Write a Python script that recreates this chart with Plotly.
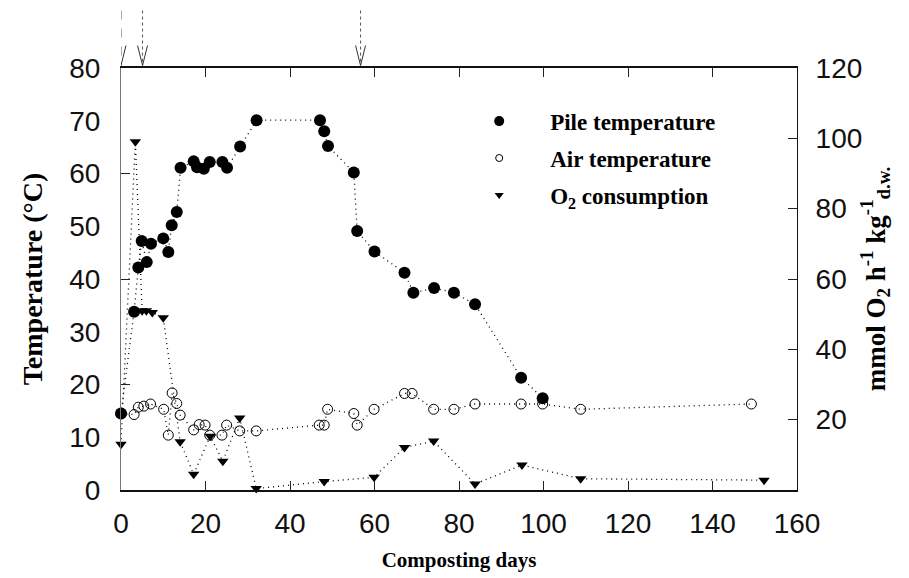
import plotly.graph_objects as go

# ---------------- data ----------------
pile_days = [0, 3.1, 4.1, 4.9, 6.1, 7.1, 10.0, 11.2, 12.0, 13.2, 14.1, 17.2, 18.0, 19.6,
             21.0, 24.0, 25.1, 28.2, 32.1, 47.1, 48.1, 49.0, 55.1, 55.9, 60.0, 67.1,
             69.2, 74.1, 78.8, 83.8, 94.7, 99.8]
pile_temp = [14.5, 33.8, 42.2, 47.2, 43.2, 46.7, 47.7, 45.1, 50.2, 52.7, 61.1, 62.3, 61.2, 60.9,
             62.2, 62.2, 61.1, 65.1, 70.1, 70.1, 68.0, 65.2, 60.2, 49.1, 45.2, 41.2,
             37.4, 38.3, 37.4, 35.2, 21.3, 17.4]

air_days = [0.1, 3.1, 4.1, 5.4, 7.0, 10.1, 11.2, 12.1, 13.2, 14.0, 17.2, 18.5, 19.9, 21.0,
            23.9, 25.0, 28.1, 32.0, 46.9, 48.1, 48.9, 55.1, 55.9, 59.9, 67.1, 68.9,
            74.0, 78.8, 83.8, 94.7, 99.8, 108.8, 149.2]
air_temp = [14.5, 14.3, 15.7, 15.9, 16.3, 15.3, 10.4, 18.4, 16.4, 14.2, 11.4, 12.4, 12.3, 10.4,
            10.4, 12.3, 11.2, 11.2, 12.3, 12.3, 15.3, 14.5, 12.3, 15.3, 18.3, 18.3,
            15.3, 15.3, 16.3, 16.3, 16.3, 15.3, 16.3]

o2_days = [0, 3.4, 5.0, 6.0, 7.4, 10.0, 14.0, 17.2, 21.1, 24.1, 28.1, 32.0, 48.1, 59.9,
           67.1, 74.0, 83.8, 94.9, 108.8, 152.2]
o2_rate = [13, 99, 51, 51, 50.5, 49, 13.7, 4.5, 15.3, 8.2, 20.5, 0.4, 2.4, 3.6,
           12.1, 13.9, 1.7, 7.1, 3.2, 2.8]

series_names = ["Pile temperature", "Air temperature", "O<sub>2</sub> consumption"]

turning_days = [0, 5.1, 56.7]
turning_dash = ["dash", "dot", "dot"]

x_ticks = [0, 20, 40, 60, 80, 100, 120, 140, 160]
left_labels = [0, 10, 20, 30, 40, 50, 60, 70, 80]
left_ticks = [0, 20, 40, 60, 80]
right_ticks = [20, 40, 60, 80, 100, 120]

# ---------------- figure ----------------
DOT = "1px,4px"
legend_font = dict(family="Liberation Serif", size=23, color="black", weight="bold")

pile_marker = dict(symbol="circle", size=12, color="black")
air_marker = dict(symbol="circle-open", size=10, color="black", line=dict(width=1))
o2_marker = dict(symbol="triangle-down", size=10, color="black")

fig = go.Figure()
fig.add_trace(go.Scatter(
    x=pile_days, y=pile_temp, mode="lines+markers", showlegend=False,
    line=dict(color="black", width=1.3, dash=DOT), marker=pile_marker, cliponaxis=False))
fig.add_trace(go.Scatter(
    x=air_days, y=air_temp, mode="lines+markers", showlegend=False,
    line=dict(color="black", width=1.3, dash=DOT), marker=air_marker, cliponaxis=False))
fig.add_trace(go.Scatter(
    x=o2_days, y=o2_rate, mode="lines+markers", yaxis="y2", showlegend=False,
    line=dict(color="black", width=1.3, dash=DOT), marker=o2_marker, cliponaxis=False))

# legend entries (markers only, as in the reference)
legend_markers = [dict(pile_marker, size=10), dict(air_marker, size=7), dict(o2_marker, size=8)]
for i, (nm, mk) in enumerate(zip(series_names, legend_markers)):
    fig.add_trace(go.Scatter(x=[None], y=[None], mode="markers", name=nm, marker=mk,
                             legendgroup="g%d" % i))

# invisible helper trace for the tick-only left axis overlay
fig.add_trace(go.Scatter(x=[0], y=[0], yaxis="y3", mode="markers",
                         marker=dict(opacity=0), showlegend=False, hoverinfo="skip"))

# arrows marking turning events
L, T, B = 120.7, 67.5, 490.0
ph = B - T
px_day = 4.25
for d, ds in zip(turning_days, turning_dash):
    fig.add_shape(type="line", xref="x", yref="paper", x0=d, x1=d,
                  y0=1 + (T - 10) / ph, y1=1 + (T - 65) / ph,
                  line=dict(color="#555", width=1, dash=ds))
    for s in (-1, 1):
        fig.add_shape(type="line", xref="x", yref="paper",
                      x0=d + s * 5 / px_day, x1=d,
                      y0=1 + (T - 45) / ph, y1=1 + (T - 65) / ph,
                      line=dict(color="#333", width=1))

tick_font = dict(family="Liberation Sans", size=28, color="#111")
xtitle_font = dict(family="Liberation Serif", size=21, color="black", weight="bold")
ytitle_font = dict(family="Liberation Serif", size=28, color="black", weight="bold")
y2title_font = dict(family="Liberation Serif", size=27, color="black", weight="bold")

fig.update_layout(
    width=909, height=578,
    margin=dict(l=L, r=909 - 797, t=T, b=578 - B, autoexpand=False),
    paper_bgcolor="white", plot_bgcolor="white",
    showlegend=True,
    legend=dict(x=0.484, y=0.925, xanchor="left", yanchor="top",
                font=legend_font, bgcolor="rgba(0,0,0,0)",
                tracegroupgap=4, traceorder="grouped", itemwidth=92),
    xaxis=dict(range=[0, 160], tickvals=x_ticks, ticks="inside", ticklen=9,
               tickcolor="#222", tickwidth=1,
               showline=True, linecolor="#111", linewidth=1.5, mirror="ticks",
               showgrid=False, zeroline=False, tickfont=tick_font,
               ticklabelstandoff=8,
               title=dict(text="Composting days", font=xtitle_font, standoff=14)),
    yaxis=dict(range=[0, 80], tickvals=left_labels, ticks="",
               showline=True, linecolor="#777", linewidth=1,
               showgrid=False, zeroline=False, tickfont=tick_font,
               ticklabelstandoff=14,
               title=dict(text="Temperature (°C)", font=ytitle_font, standoff=18)),
    yaxis3=dict(range=[0, 80], overlaying="y", side="left", tickvals=left_ticks,
                ticks="inside", ticklen=9, tickcolor="#222", showticklabels=False,
                showline=False, showgrid=False, zeroline=False),
    yaxis2=dict(range=[0, 120], overlaying="y", side="right", tickvals=right_ticks,
                ticks="inside", ticklen=9, tickcolor="#222",
                showline=True, linecolor="#111", linewidth=1,
                showgrid=False, zeroline=False, tickfont=tick_font,
                ticklabelstandoff=12,
                title=dict(text="mmol O<sub>2</sub> h<sup>-1</sup> kg<sup>-1</sup><sub>d.w.</sub>",
                           font=y2title_font, standoff=4)),
)

fig.write_html("out.html")
